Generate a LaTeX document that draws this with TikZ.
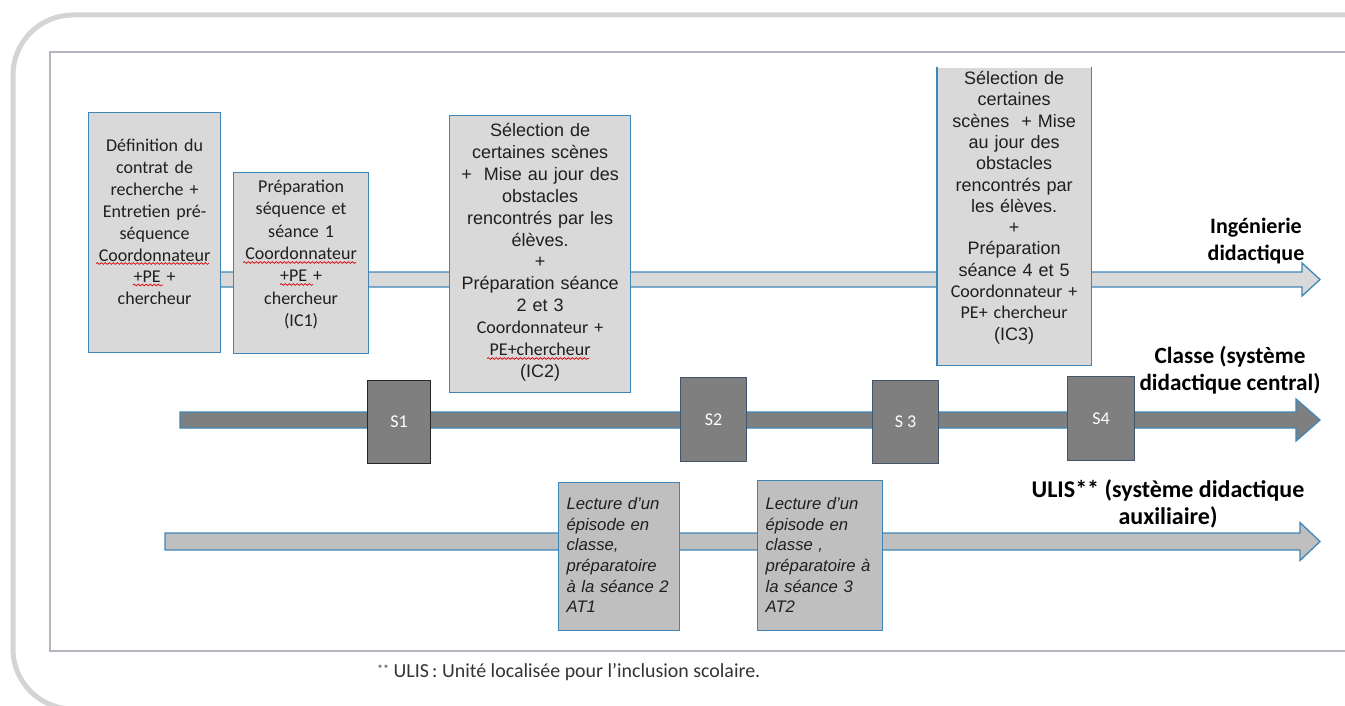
\documentclass[tikz,border=0pt]{standalone}
\usepackage{fontspec}
\setmainfont{Carlito}
\newfontfamily\arialfont{Liberation Sans}
\usetikzlibrary{decorations.pathmorphing}
\definecolor{boxblue}{HTML}{3E86B8}
\definecolor{lightfill}{HTML}{D9D9D9}
\definecolor{midfill}{HTML}{BFBFBF}
\definecolor{darkfill}{HTML}{7F7F7F}
\definecolor{sesline}{HTML}{44546A}
\definecolor{framegray}{HTML}{D4D4D4}
\definecolor{innergray}{HTML}{B4B4BC}

% block arrow: style, y, x start, half shaft, half head, head base
\newcommand{\timeline}[6]{%
  \draw[#1] (#3,#2-#4) -- (#6,#2-#4) -- (#6,#2-#5) -- (1320,#2)
    -- (#6,#2+#5) -- (#6,#2+#4) -- (#3,#2+#4) -- cycle;}

\begin{document}
\begin{tikzpicture}[x=1pt,y=-1pt,
  b/.style={draw=boxblue,line width=1.2pt,anchor=north west,inner ysep=0pt,inner xsep=3pt,align=center,text=black!88},
  ing/.style={b,fill=lightfill},
  cal/.style={font=\fontsize{18}{21.9}\selectfont},
  ari/.style={font=\arialfont\fontsize{18}{21.9}\selectfont},
  aux/.style={b,fill=midfill,align=left,inner xsep=8pt,font=\arialfont\itshape\fontsize{16.7}{20.6}\selectfont},
  ses/.style={b,fill=darkfill,draw=sesline,text=white,font=\fontsize{18}{22}\selectfont},
  lab/.style={align=center,inner sep=0pt,font=\bfseries\fontsize{22}{26.5}\selectfont,text=black},
  arr/.style={draw=boxblue,line width=1.3pt},
  typo/.style={draw=red!85!black,line width=0.7pt,decorate,decoration={snake,amplitude=0.9pt,segment length=4pt}}
]
\useasboundingbox (0,0) rectangle (1345,706);
\clip (0,0) rectangle (1345,706);

% frames
\draw[framegray,line width=5pt,rounded corners=60pt] (13,15) rectangle (1420,709);
\draw[innergray,line width=2.5pt] (1420,52) -| (50,651) -- (1420,651);

% the three time lines
\timeline{arr,fill=lightfill}{279.5}{150}{7.5}{16.5}{1302}
\timeline{arr,fill=darkfill}{420}{180}{8}{21}{1296}
\timeline{arr,fill=midfill}{541.5}{165}{8.5}{19}{1300}

% ingenierie didactique
\node[ing,cal,text width=126pt,text height=39pt,text depth=201pt] (ctr) at (88,112)
  {Définition du\\contrat de\\recherche +\\Entretien pré-\\séquence\\Coordonnateur\\+PE +\\chercheur};
\node[ing,text width=129pt,text height=20pt,text depth=161pt,font=\fontsize{18}{22.3}\selectfont] (ic1) at (233,172)
  {Préparation\\séquence et\\séance 1\\Coordonnateur\\+PE +\\chercheur\\(IC1)};
\node[ing,ari,text width=175pt,text height=21pt,text depth=256pt] (ic2) at (449,115)
  {Sélection de\\certaines scènes\\+~ Mise au jour des\\obstacles\\rencontrés par les\\élèves.\\+\\Préparation séance\\2 et 3\\{\rmfamily Coordonnateur +}\\{\rmfamily PE+chercheur}\\(IC2)};
\node[ing,draw=none,text width=147pt,text height=17pt,text depth=280pt,font=\arialfont\fontsize{18}{21.3}\selectfont] (ic3) at (937,67)
  {Sélection de\\certaines\\scènes~ + Mise\\au jour des\\obstacles\\rencontrés par\\les élèves.\\+\\Préparation\\séance 4 et 5\\{\rmfamily Coordonnateur +}\\{\rmfamily PE+ chercheur}\\(IC3)};
\draw[draw=boxblue,line width=1.2pt] (ic3.north west) -- (ic3.south west) -- (ic3.south east) -- (ic3.north east);

% spelling marks
\draw[typo] (96,263.5) -- (209,263.5);
\draw[typo] (133,285) -- (163,285);
\draw[typo] (243,262.5) -- (356,262.5);
\draw[typo] (280,284.5) -- (313,284.5);
\draw[typo] (487,358.5) -- (589,358.5);

% seances
\node[ses,draw=black!85,minimum width=63pt,minimum height=83pt] (s1) at (367,380) {S1};
\node[ses,minimum width=66pt,minimum height=84pt] (s2) at (680,377) {S2};
\node[ses,minimum width=66pt,minimum height=83pt] (s3) at (872,380) {S 3};
\node[ses,minimum width=67pt,minimum height=84pt] (s4) at (1067,376) {S4};

% ULIS
\node[aux,text width=105pt,text height=27pt,text depth=121pt] (at1) at (558,482)
  {Lecture d’un\\épisode en\\classe,\\préparatoire\\à la séance 2\\AT1};
\node[aux,text width=109pt,text height=29pt,text depth=121pt] (at2) at (757,480)
  {Lecture d’un\\épisode en\\classe ,\\préparatoire à\\la séance 3\\AT2};

% labels
\node[lab] (ling) at (1256,241) {Ingénierie\\didactique};
\node[lab,font=\bfseries\fontsize{23.2}{26.5}\selectfont] (lcls) at (1230,370) {Classe (système\\didactique central)};
\node[lab,font=\bfseries\fontsize{24}{27.5}\selectfont] (lulis) at (1168,504) {ULIS** (système didactique\\auxiliaire)};

\node[anchor=west,inner sep=0pt,text=black!80,font=\fontsize{19.9}{22}\selectfont] (note) at (377,672)
  {\raisebox{4pt}{\fontsize{12}{12}\selectfont **} ULIS\,: Unité localisée pour l’inclusion scolaire.};
\end{tikzpicture}
\end{document}
